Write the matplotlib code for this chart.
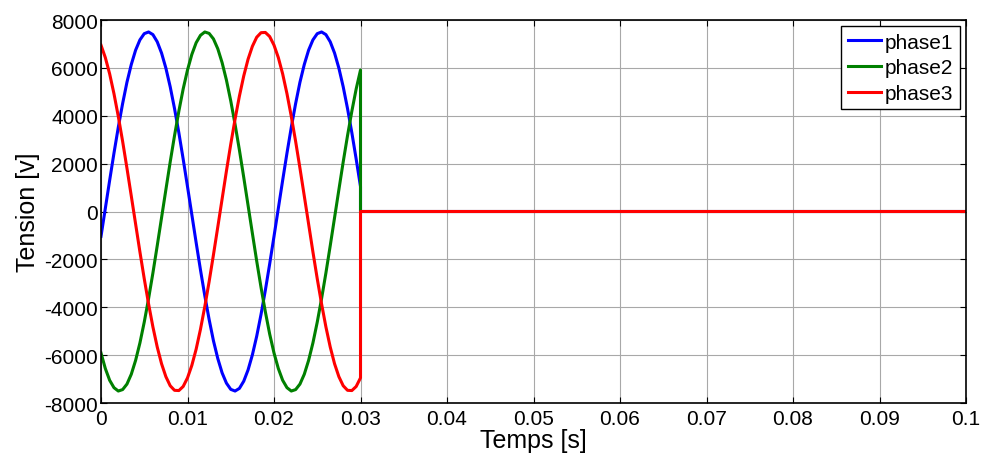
import matplotlib
matplotlib.use("Agg")
import matplotlib.pyplot as plt
import numpy as np

plt.rcParams['font.family'] = ['Liberation Sans', 'DejaVu Sans']
plt.rcParams['axes.unicode_minus'] = False

# samples every 0.5 ms from 0 to 0.03 s
sample_step = 0.0005
phase1 = [-1040, 130, 1300, 2440, 3520, 4510, 5400, 6140, 6740, 7170,
          7430, 7500, 7390, 7090, 6620, 5990, 5210, 4300, 3290, 2190,
          1040, -130, -1300, -2440, -3520, -4510, -5400, -6140, -6740, -7170,
          -7430, -7500, -7390, -7090, -6620, -5990, -5210, -4300, -3290, -2190,
          -1040, 130, 1300, 2440, 3520, 4510, 5400, 6140, 6740, 7170,
          7430, 7500, 7390, 7090, 6620, 5990, 5210, 4300, 3290, 2190,
          1040]
phase2 = [-5910, -6560, -7050, -7360, -7500, -7440, -7210, -6800, -6220, -5490,
          -4620, -3640, -2570, -1430, -260, 910, 2070, 3170, 4190, 5120,
          5910, 6560, 7050, 7360, 7500, 7440, 7210, 6800, 6220, 5490,
          4620, 3640, 2570, 1430, 260, -910, -2070, -3170, -4190, -5120,
          -5910, -6560, -7050, -7360, -7500, -7440, -7210, -6800, -6220, -5490,
          -4620, -3640, -2570, -1430, -260, 910, 2070, 3170, 4190, 5120,
          5910]
phase3 = [6950, 6430, 5750, 4920, 3970, 2930, 1810, 650, -520, -1690,
          -2810, -3860, -4820, -5660, -6360, -6900, -7280, -7470, -7480, -7310,
          -6950, -6430, -5750, -4920, -3970, -2930, -1810, -650, 520, 1690,
          2810, 3860, 4820, 5660, 6360, 6900, 7280, 7470, 7480, 7310,
          6950, 6430, 5750, 4920, 3970, 2930, 1810, 650, -520, -1690,
          -2810, -3860, -4820, -5660, -6360, -6900, -7280, -7470, -7480, -7310,
          -6950]
# after the cut everything stays at zero
t_cut = 0.03
t_end = 0.1

labels = ["phase1", "phase2", "phase3"]
colors = ["#0000ff", "#008000", "#ff0000"]

t = np.arange(len(phase1)) * sample_step

fig = plt.figure(figsize=(9.84, 4.6), dpi=100)
ax = fig.add_axes([101 / 984, 1 - 404 / 460, 865 / 984, 383 / 460])

for vals, lab, col in zip([phase1, phase2, phase3], labels, colors):
    tt = np.concatenate([t, [t_cut, t_end]])
    yy = np.concatenate([vals, [0, 0]])
    ax.plot(tt, yy, color=col, lw=2.2, label=lab)

ax.set_xlim(0, 0.1)
ax.set_ylim(-8000, 8000)
ax.set_xticks(np.arange(0, 0.101, 0.01))
ax.set_xticklabels(["0", "0.01", "0.02", "0.03", "0.04", "0.05", "0.06",
                    "0.07", "0.08", "0.09", "0.1"])
ax.set_yticks(np.arange(-8000, 8001, 2000))
ax.grid(True, color="#a8a8a8", lw=0.8)
ax.tick_params(direction="in", length=4, labelsize=15, top=True, right=True)
ax.tick_params(axis="x", pad=4)
ax.tick_params(axis="y", pad=2)
for s in ax.spines.values():
    s.set_linewidth(1.2)
ax.set_xlabel("Temps [s]", fontsize=18, labelpad=0)
ax.set_ylabel("Tension [v]", fontsize=18, labelpad=3)

leg = ax.legend(loc="upper right", fontsize=15, fancybox=False, framealpha=1,
                edgecolor="black", handlelength=1.6, handletextpad=0.2,
                borderpad=0.3, labelspacing=0.32, borderaxespad=0.3)
leg.get_frame().set_linewidth(1.0)

fig.savefig("out.png", dpi=100)
